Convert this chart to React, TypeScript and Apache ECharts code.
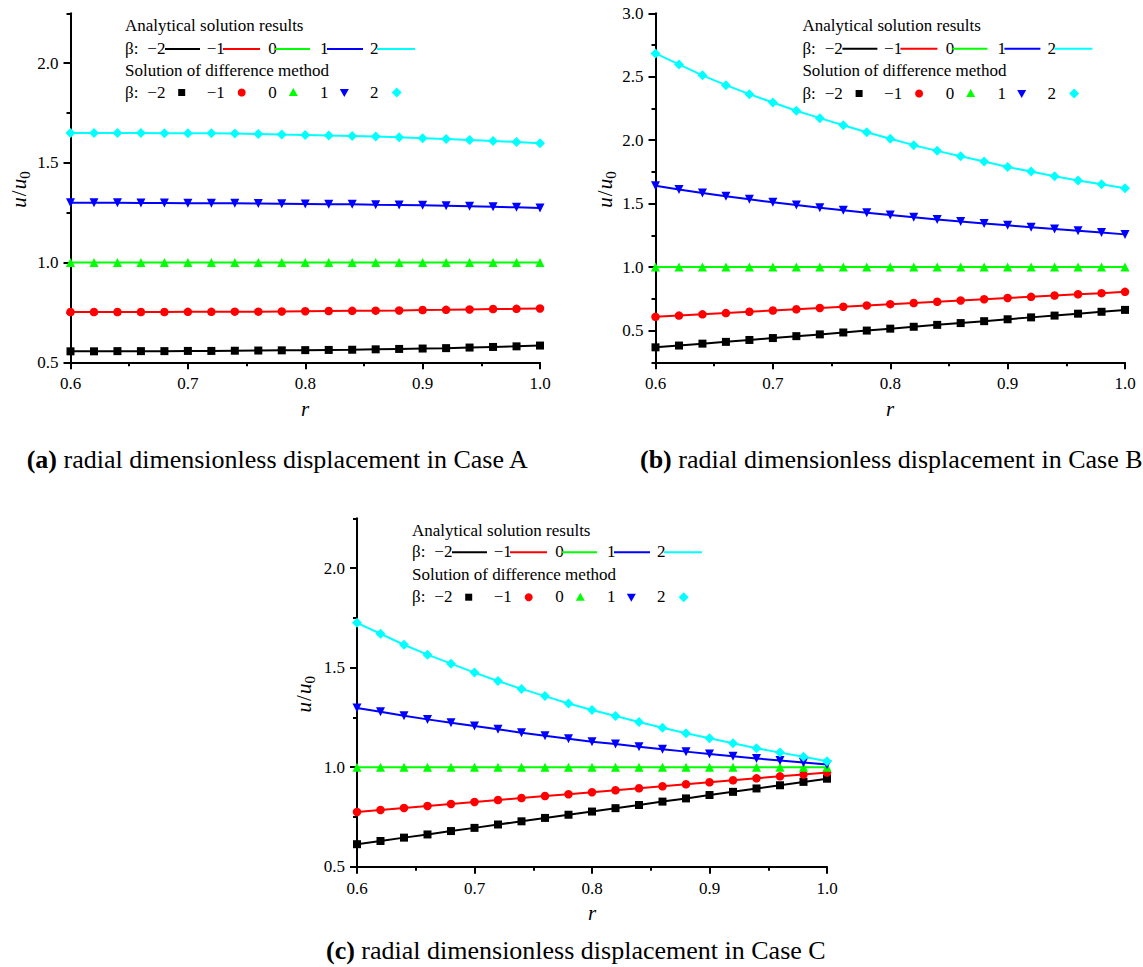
import React, { useEffect, useRef } from "react";
import * as echarts from "echarts";

// ---------- data ----------
const R = [0.6, 0.62, 0.64, 0.66, 0.68, 0.7, 0.72, 0.74, 0.76, 0.78, 0.8, 0.82, 0.84, 0.86, 0.88, 0.9, 0.92, 0.94, 0.96, 0.98, 1.0];

// Case A
const A_M2 = [0.555, 0.555, 0.556, 0.556, 0.556, 0.557, 0.557, 0.558, 0.559, 0.56, 0.561, 0.562, 0.563, 0.565, 0.567, 0.569, 0.571, 0.574, 0.577, 0.58, 0.584];
const A_M1 = [0.752, 0.752, 0.752, 0.752, 0.752, 0.753, 0.753, 0.754, 0.754, 0.755, 0.756, 0.757, 0.758, 0.759, 0.76, 0.762, 0.763, 0.765, 0.767, 0.768, 0.77];
const A_0 = [1.0, 1.0, 1.0, 1.0, 1.0, 1.0, 1.0, 1.0, 1.0, 1.0, 1.0, 1.0, 1.0, 1.0, 1.0, 1.0, 1.0, 1.0, 1.0, 1.0, 1.0];
const A_1 = [1.3, 1.3, 1.3, 1.299, 1.299, 1.298, 1.298, 1.297, 1.296, 1.295, 1.294, 1.293, 1.292, 1.29, 1.289, 1.287, 1.285, 1.283, 1.28, 1.277, 1.274];
const A_2 = [1.65, 1.65, 1.65, 1.65, 1.648, 1.648, 1.648, 1.647, 1.645, 1.642, 1.64, 1.637, 1.635, 1.632, 1.628, 1.623, 1.62, 1.615, 1.61, 1.605, 1.598];

// Case B
const B_M2 = [0.368, 0.382, 0.397, 0.411, 0.426, 0.441, 0.456, 0.47, 0.485, 0.5, 0.515, 0.53, 0.545, 0.559, 0.574, 0.589, 0.604, 0.618, 0.633, 0.648, 0.663];
const B_M1 = [0.608, 0.618, 0.628, 0.638, 0.648, 0.658, 0.668, 0.678, 0.688, 0.698, 0.708, 0.717, 0.727, 0.737, 0.747, 0.757, 0.766, 0.776, 0.786, 0.795, 0.805];
const B_0 = [1.0, 1.0, 1.0, 1.0, 1.0, 1.0, 1.0, 1.0, 1.0, 1.0, 1.0, 1.0, 1.0, 1.0, 1.0, 1.0, 1.0, 1.0, 1.0, 1.0, 1.0];
const B_1 = [1.642, 1.612, 1.584, 1.558, 1.534, 1.511, 1.489, 1.468, 1.448, 1.429, 1.411, 1.393, 1.376, 1.36, 1.344, 1.329, 1.314, 1.3, 1.286, 1.272, 1.258];
const B_2 = [2.684, 2.597, 2.511, 2.434, 2.363, 2.297, 2.232, 2.174, 2.118, 2.063, 2.011, 1.961, 1.916, 1.874, 1.832, 1.789, 1.753, 1.716, 1.682, 1.653, 1.621];

// Case C
const C_M2 = [0.613, 0.629, 0.646, 0.662, 0.679, 0.695, 0.712, 0.728, 0.745, 0.761, 0.777, 0.794, 0.81, 0.827, 0.843, 0.86, 0.876, 0.893, 0.909, 0.926, 0.942];
const C_M1 = [0.775, 0.785, 0.795, 0.805, 0.815, 0.825, 0.835, 0.845, 0.855, 0.864, 0.874, 0.884, 0.894, 0.904, 0.914, 0.924, 0.934, 0.944, 0.954, 0.963, 0.973];
const C_0 = [1.0, 1.0, 1.0, 1.0, 1.0, 1.0, 1.0, 1.0, 1.0, 1.0, 1.0, 1.0, 1.0, 1.0, 1.0, 1.0, 1.0, 1.0, 1.0, 1.0, 1.0];
const C_1 = [1.297, 1.278, 1.258, 1.24, 1.223, 1.207, 1.19, 1.173, 1.158, 1.143, 1.128, 1.116, 1.103, 1.09, 1.078, 1.066, 1.055, 1.044, 1.033, 1.023, 1.013];
const C_2 = [1.725, 1.67, 1.615, 1.565, 1.52, 1.475, 1.433, 1.393, 1.357, 1.32, 1.287, 1.257, 1.227, 1.198, 1.17, 1.145, 1.12, 1.095, 1.073, 1.052, 1.03];

const BETA_LABELS = ["\u22122", "\u22121", "0", "1", "2"];
const X_TICKS = [0.6, 0.7, 0.8, 0.9, 1.0];
const Y_TICKS_AC = [0.5, 1.0, 1.5, 2.0];
const Y_TICKS_B = [0.5, 1.0, 1.5, 2.0, 2.5, 3.0];
const LEGEND_TITLE_1 = "Analytical solution results";
const LEGEND_TITLE_2 = "Solution of difference method";
const CAPTION_TAGS = ["(a)", "(b)", "(c)"];
const CAPTION_TEXTS = [
  " radial dimensionless displacement in Case A",
  " radial dimensionless displacement in Case B",
  " radial dimensionless displacement in Case C",
];

// ---------- styles ----------
const FONT = '"Liberation Serif", "Times New Roman", serif';
const COLORS = ["#000000", "#ff0000", "#00ff00", "#0000ff", "#00ffff"];
const SYMBOLS = ["rect", "circle", "triangle", "triangle", "diamond"];
const SYMBOL_ROT = [0, 0, 0, 180, 0];
const SYMBOL_SIZE = [8, 8.5, 9, 9, 10];

const PANELS = [
  {
    grid: { left: 70.5, top: 13.3, width: 469.5, height: 349 },
    yMin: 0.5, yMax: 2.25, yTicks: Y_TICKS_AC,
    series: [A_M2, A_M1, A_0, A_1, A_2],
    legend: { x: 125, rows: [25, 48.5, 70, 92] },
    caption: { x: 26.7, y: 459 },
    rName: { x: 305, y: 409 },
    yName: { x: 18.5, y: 187.8 },
  },
  {
    grid: { left: 655.5, top: 13.3, width: 469.5, height: 349 },
    yMin: 0.25, yMax: 3.0, yTicks: Y_TICKS_B,
    series: [B_M2, B_M1, B_0, B_1, B_2],
    legend: { x: 802.4, rows: [25, 48.3, 70, 93] },
    caption: { x: 640, y: 459 },
    rName: { x: 890, y: 409 },
    yName: { x: 604.6, y: 187.8 },
  },
  {
    grid: { left: 357, top: 518.3, width: 470, height: 348.4 },
    yMin: 0.5, yMax: 2.25, yTicks: Y_TICKS_AC,
    series: [C_M2, C_M1, C_0, C_1, C_2],
    legend: { x: 412, rows: [530, 551.7, 574.3, 596.7] },
    caption: { x: 326, y: 950 },
    rName: { x: 592, y: 913 },
    yName: { x: 304, y: 692.5 },
  },
];

const AXIS_LINE = { color: "#000", width: 2 };

function txt(x: number, y: number, text: string, size = 17, extra: any = {}) {
  return {
    type: "text",
    x,
    y,
    style: {
      text,
      fontFamily: FONT,
      fontSize: size,
      fill: "#000",
      textVerticalAlign: "middle",
      ...extra,
    },
  };
}

function markerEl(i: number, cx: number, cy: number) {
  const c = COLORS[i];
  if (i === 0) return { type: "rect", shape: { x: cx - 3.5, y: cy - 3.5, width: 7, height: 7 }, style: { fill: c } };
  if (i === 1) return { type: "circle", shape: { cx, cy, r: 4 }, style: { fill: c } };
  if (i === 2)
    return { type: "polygon", shape: { points: [[cx, cy - 4.5], [cx - 4.5, cy + 3.5], [cx + 4.5, cy + 3.5]] }, style: { fill: c } };
  if (i === 3)
    return { type: "polygon", shape: { points: [[cx, cy + 4.5], [cx - 4.5, cy - 3.5], [cx + 4.5, cy - 3.5]] }, style: { fill: c } };
  return { type: "polygon", shape: { points: [[cx, cy - 5], [cx + 5, cy], [cx, cy + 5], [cx - 5, cy]] }, style: { fill: c } };
}

function legendEls(x0: number, rows: number[]) {
  const labelOff = [22.3, 81.7, 143.3, 195, 245];
  const lineOff = [[40, 75], [98, 135], [150, 185], [202, 238], [252, 290]];
  const markOff = [56.7, 116.7, 168.3, 219.3, 271.7];
  const els: any[] = [];
  els.push(txt(x0, rows[0], LEGEND_TITLE_1));
  els.push(txt(x0, rows[1], "\u03b2:"));
  els.push(txt(x0, rows[2], LEGEND_TITLE_2));
  els.push(txt(x0, rows[3], "\u03b2:"));
  for (let i = 0; i < 5; i++) {
    els.push(txt(x0 + labelOff[i], rows[1], BETA_LABELS[i]));
    els.push({
      type: "line",
      shape: { x1: x0 + lineOff[i][0], y1: rows[1] + 0.5, x2: x0 + lineOff[i][1], y2: rows[1] + 0.5 },
      style: { stroke: COLORS[i], lineWidth: 2 },
    });
    els.push(txt(x0 + labelOff[i], rows[3], BETA_LABELS[i]));
    els.push(markerEl(i, x0 + markOff[i], rows[3] + 0.5));
  }
  return els;
}

function yNameEl(x: number, y: number) {
  return {
    type: "group",
    x,
    y,
    rotation: Math.PI / 2,
    children: [
      { type: "text", x: -20, y: 0, style: { text: "u", fontFamily: FONT, fontSize: 21, fontStyle: "italic", fill: "#000", textVerticalAlign: "middle" } },
      { type: "text", x: -8.5, y: 0, style: { text: "/", fontFamily: FONT, fontSize: 21, fill: "#000", textVerticalAlign: "middle" } },
      { type: "text", x: -1.5, y: 0, style: { text: "u", fontFamily: FONT, fontSize: 21, fontStyle: "italic", fill: "#000", textVerticalAlign: "middle" } },
      { type: "text", x: 9, y: 6, style: { text: "0", fontFamily: FONT, fontSize: 15, fill: "#000", textVerticalAlign: "middle" } },
    ],
  };
}

function buildOption() {
  const grid: any[] = [];
  const xAxis: any[] = [];
  const yAxis: any[] = [];
  const series: any[] = [];
  const graphics: any[] = [];

  PANELS.forEach((p, gi) => {
    grid.push({ ...p.grid, containLabel: false });
    xAxis.push({
      gridIndex: gi,
      type: "value",
      position: "bottom",
      min: 0.6,
      max: 1.0,
      interval: 0.1,
      axisLine: { show: true, onZero: false, lineStyle: AXIS_LINE },
      axisTick: { show: true, inside: false, length: 7, lineStyle: AXIS_LINE },
      minorTick: { show: true, splitNumber: 2, length: 4, lineStyle: AXIS_LINE },
      splitLine: { show: false },
      minorSplitLine: { show: false },
      axisLabel: {
        fontFamily: FONT,
        fontSize: 17,
        color: "#000",
        margin: 13,
        customValues: X_TICKS,
        formatter: (v: number) => v.toFixed(1),
      },
    });
  });

  PANELS.forEach((p, gi) => {
    yAxis.push({
      gridIndex: gi,
      type: "value",
      position: "left",
      min: p.yMin,
      max: p.yMax,
      interval: 0.25,
      axisLine: { show: true, onZero: false, lineStyle: AXIS_LINE },
      axisTick: { show: true, inside: false, length: 7, customValues: p.yTicks, lineStyle: AXIS_LINE },
      splitLine: { show: false },
      axisLabel: {
        fontFamily: FONT,
        fontSize: 17,
        color: "#000",
        margin: 12,
        customValues: p.yTicks,
        formatter: (v: number) => (Math.abs(v * 2 - Math.round(v * 2)) < 1e-6 ? v.toFixed(1) : ""),
      },
    });
  });
  // minor ticks overlay, on the same left axis line
  PANELS.forEach((p, gi) => {
    yAxis.push({
      gridIndex: gi,
      type: "value",
      position: "left",
      offset: 0,
      min: p.yMin,
      max: p.yMax,
      interval: 0.25,
      axisLine: { show: false, onZero: false },
      axisTick: { show: true, inside: false, length: 4, lineStyle: AXIS_LINE },
      splitLine: { show: false },
      axisLabel: { show: false },
    });
  });

  PANELS.forEach((p, gi) => {
    p.series.forEach((vals, si) => {
      series.push({
        type: "line",
        name: `${CAPTION_TAGS[gi]} \u03b2=${BETA_LABELS[si]}`,
        xAxisIndex: gi,
        yAxisIndex: gi,
        data: R.map((r, k) => [r, vals[k]]),
        symbol: SYMBOLS[si],
        symbolSize: SYMBOL_SIZE[si],
        symbolRotate: SYMBOL_ROT[si],
        showSymbol: true,
        showAllSymbol: true,
        clip: false,
        lineStyle: { color: COLORS[si], width: 2 },
        itemStyle: { color: COLORS[si] },
        z: 2 + si,
      });
    });
    graphics.push(...legendEls(p.legend.x, p.legend.rows));
    graphics.push(yNameEl(p.yName.x, p.yName.y));
    graphics.push(txt(p.rName.x, p.rName.y, "r", 21, { fontStyle: "italic", textAlign: "center" }));
    graphics.push({
      type: "text",
      x: p.caption.x,
      y: p.caption.y,
      style: {
        text: `{b|${CAPTION_TAGS[gi]}}${CAPTION_TEXTS[gi]}`,
        fontFamily: FONT,
        fontSize: 26,
        fill: "#000",
        textVerticalAlign: "middle",
        rich: {
          b: { fontFamily: FONT, fontSize: 26, fontWeight: "bold", fill: "#000" },
        },
      },
    });
  });

  return {
    animation: false,
    backgroundColor: "#ffffff",
    grid,
    xAxis,
    yAxis,
    series,
    graphic: { elements: graphics },
  };
}

export default function App() {
  const ref = useRef<HTMLDivElement>(null);
  useEffect(() => {
    if (!ref.current) return;
    const chart = echarts.init(ref.current, null, { renderer: "svg" });
    chart.setOption(buildOption() as any);
    return () => chart.dispose();
  }, []);
  return (
    <div
      ref={ref}
      style={{ position: "absolute", left: 0, top: 0, width: 1143, height: 967, background: "#fff" }}
    />
  );
}
